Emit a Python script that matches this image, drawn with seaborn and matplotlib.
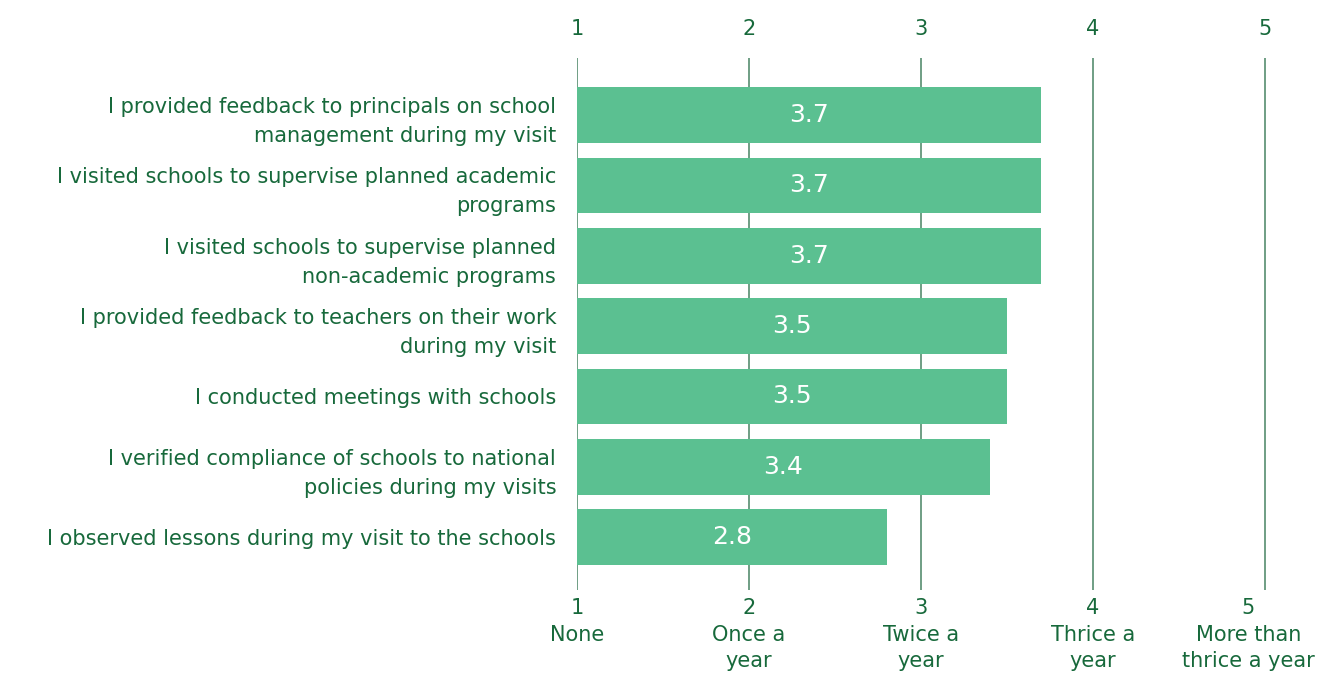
import matplotlib
matplotlib.use("Agg")
import matplotlib.pyplot as plt
import seaborn as sns
import pandas as pd

activities = [
    "I provided feedback to principals on school\nmanagement during my visit",
    "I visited schools to supervise planned academic\nprograms",
    "I visited schools to supervise planned\nnon-academic programs",
    "I provided feedback to teachers on their work\nduring my visit",
    "I conducted meetings with schools",
    "I verified compliance of schools to national\npolicies during my visits",
    "I observed lessons during my visit to the schools",
]
scores = [3.7, 3.7, 3.7, 3.5, 3.5, 3.4, 2.8]
scale_values = [1, 2, 3, 4, 5]
scale_labels = ["None", "Once a\nyear", "Twice a\nyear", "Thrice a\nyear", "More than\nthrice a year"]

DARK = "#17693b"
BAR = "#5bc091"
GRID = "#6f9e84"

sns.set_theme(style="white")
plt.rcParams["font.family"] = ["DejaVu Sans"]

df = pd.DataFrame({"activity": activities, "score": scores})

fig = plt.figure(figsize=(13.24, 6.73), dpi=100)
ax = fig.add_axes([577 / 1324, 1 - 590 / 673, 172 * 4.1 / 1324, (590 - 58) / 673])

for v in scale_values:
    ax.axvline(v, color=GRID, lw=1.4, zorder=0)

sns.barplot(data=df, x="score", y="activity", orient="h", color=BAR,
            width=0.79, saturation=1, ax=ax, zorder=2)

# bars start from the bottom of the scale (1)
for patch, s in zip(ax.patches, scores):
    patch.set_x(1)
    patch.set_width(s - 1)
    patch.set_edgecolor("none")
    cy = patch.get_y() + patch.get_height() / 2
    ax.text(1 + (s - 1) / 2, cy, f"{s:.1f}", color="white", fontsize=18,
            ha="center", va="center", zorder=3)

ax.set_xlim(1, 5.1)
ax.set_ylim(6.75, -0.81)
for sp in ax.spines.values():
    sp.set_visible(False)

ax.set_xlabel("")
ax.set_ylabel("")
ax.set_xticks(scale_values)
ax.set_xticklabels([])
ax.tick_params(axis="x", length=0)
ax.tick_params(axis="y", length=0, pad=15)
for lbl in ax.get_yticklabels():
    lbl.set_fontsize(15)
    lbl.set_color(DARK)
    lbl.set_linespacing(1.55)

# scale labels under the axis; the last one is pulled inward to fit
for v, lab in zip(scale_values, scale_labels):
    dx = -12 if v == scale_values[-1] else 0
    ax.annotate(f"{v}\n{lab}", xy=(v, 0), xycoords=("data", "axes fraction"),
                xytext=(dx, -6), textcoords="offset points",
                ha="center", va="top", fontsize=15, color=DARK,
                linespacing=1.4, annotation_clip=False)

top = ax.secondary_xaxis("top")
top.set_xticks(scale_values)
top.set_xticklabels([str(v) for v in scale_values], fontsize=15, color=DARK)
top.tick_params(length=0, pad=14)
for sp in top.spines.values():
    sp.set_visible(False)

fig.savefig("out.png", dpi=100, facecolor="white")
